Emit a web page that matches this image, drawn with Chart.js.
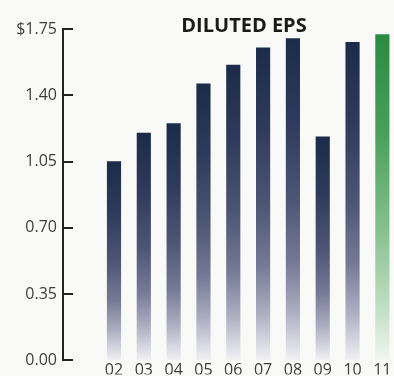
<!DOCTYPE html>
<html>
<head>
<meta charset="utf-8">
<script src="https://cdn.jsdelivr.net/npm/chart.js@4"></script>
<style>
body { margin: 0; background: #f9f9f7; }
#wrap { position: relative; width: 394px; height: 376px; }
#title {
    position: absolute; left: 144px; top: 15px; width: 200px;
    text-align: center; font: bold 20px 'Open Sans'; line-height: 20px; color: #1b1b1b;
}
</style>
</head>
<body>
<div id="wrap">
    <canvas id="epsChart" width="394" height="376"></canvas>
    <div id="title">DILUTED EPS</div>
</div>
<script>
// 연도별 희석 EPS
const years = ['02', '03', '04', '05', '06', '07', '08', '09', '10', '11'];
const eps = [1.05, 1.20, 1.25, 1.46, 1.56, 1.65, 1.70, 1.18, 1.68, 1.72];
const yTicks = [0, 0.35, 0.70, 1.05, 1.40, 1.75];
const highlightYear = '11';

const navyStops = [[0, '#1c2b49'], [0.25, '#2e3a5b'], [0.5, '#4d5575'], [0.7, '#767a96'], [0.85, '#adafc1'], [1, '#f1f1f4']];
const greenStops = [[0, '#2a8a40'], [0.3, '#48a05a'], [0.6, '#86c08f'], [0.85, '#c4e0c6'], [1, '#f1f7f1']];

function barFill(context) {
    const chart = context.chart;
    if (!chart.chartArea || context.type !== 'data') return 'rgba(0,0,0,0)';
    const y = chart.scales.y;
    const top = y.getPixelForValue(context.parsed.y);
    const base = y.getPixelForValue(0);
    const g = chart.ctx.createLinearGradient(0, top, 0, base);
    const stops = years[context.dataIndex] === highlightYear ? greenStops : navyStops;
    stops.forEach(s => g.addColorStop(s[0], s[1]));
    return g;
}

// y축 안쪽으로 눈금 표시
const innerTicks = {
    id: 'innerTicks',
    afterDraw(chart) {
        const y = chart.scales.y;
        const c = chart.ctx;
        c.save();
        c.strokeStyle = '#222';
        c.lineWidth = 2;
        y.ticks.forEach(t => {
            const py = Math.round(y.getPixelForValue(t.value));
            c.beginPath();
            c.moveTo(y.right - 1, py);
            c.lineTo(y.right + 10, py);
            c.stroke();
        });
        c.restore();
    }
};

const ctx = document.getElementById('epsChart').getContext('2d');
const epsChart = new Chart(ctx, {
    type: 'bar',
    data: {
        datasets: [{
            label: 'Diluted EPS',
            data: eps.map((v, i) => ({ x: i, y: v })),
            backgroundColor: barFill,
            borderWidth: 0,
            barThickness: 13.5
        }]
    },
    options: {
        responsive: false,
        animation: false,
        layout: { padding: { top: 29, right: 0, bottom: 0, left: 0 } },
        plugins: { legend: { display: false }, tooltip: { enabled: false } },
        scales: {
            x: {
                type: 'linear',
                offset: false,
                min: -1.71,
                max: 9.39,
                afterBuildTicks: s => { s.ticks = years.map((_, i) => ({ value: i })); },
                afterFit: s => { s.height = 14; },
                grid: { display: false },
                border: { display: false },
                ticks: {
                    autoSkip: false,
                    maxRotation: 0,
                    padding: -8,
                    color: '#3d3d3d',
                    font: { family: 'Open Sans', size: 16 },
                    callback: v => years[v]
                }
            },
            y: {
                min: 0,
                max: 1.75,
                afterBuildTicks: s => { s.ticks = yTicks.map(v => ({ value: v })); },
                afterFit: s => { s.width = 63; },
                grid: { display: false, drawTicks: false },
                border: { display: true, color: '#222', width: 2 },
                ticks: {
                    padding: 6,
                    color: '#3d3d3d',
                    font: { family: 'Open Sans', size: 16 },
                    callback: v => (v === 1.75 ? '$1.75' : v.toFixed(2))
                }
            }
        }
    },
    plugins: [innerTicks]
});
</script>
</body>
</html>
